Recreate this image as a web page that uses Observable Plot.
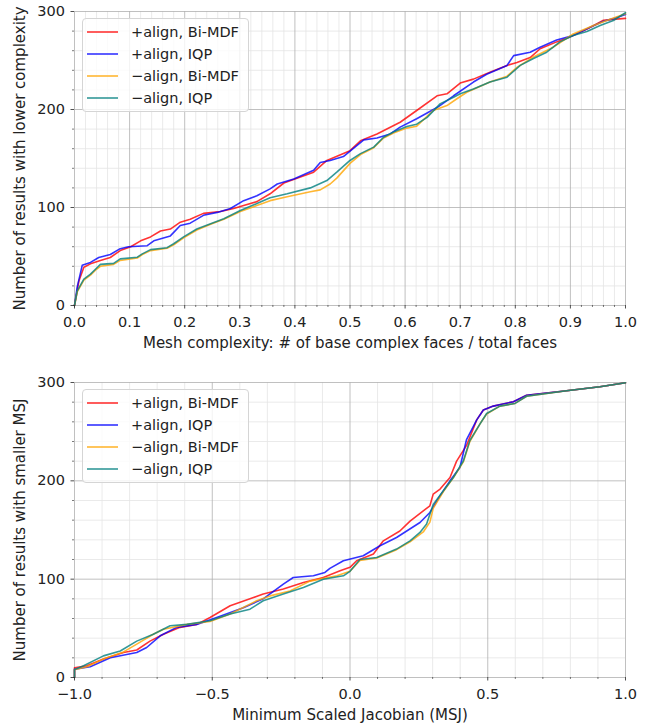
<!DOCTYPE html>
<html><head><meta charset="utf-8">
<script src="https://cdn.jsdelivr.net/npm/d3@7"></script>
<script src="https://cdn.jsdelivr.net/npm/@observablehq/plot@0.6"></script>
<style>
body{margin:0;background:#fff;font-family:"DejaVu Sans",sans-serif;}
#fig{position:relative;width:652px;height:727px;overflow:hidden;}
.panel{position:absolute;left:0;}
.legend{position:absolute;left:82px;width:167px;height:94px;border:1px solid #d5d5d5;border-radius:4px;background:rgba(255,255,255,0.8);box-sizing:border-box;font-size:14.5px;color:#222;}
.row{position:absolute;left:4px;height:22px;display:flex;align-items:center;white-space:nowrap;}
.sw{width:31px;height:6px;margin-right:13px;display:block;}
</style>
</head><body>
<div id="fig"></div>
<script>
// ---- series names & colours ----
const seriesNames = ["+align, Bi-MDF", "+align, IQP", "\u2212align, Bi-MDF", "\u2212align, IQP"];
const seriesColors = ["#ff0000", "#0000ff", "#ffa500", "#008080"];

// ---- top panel: mesh complexity (x) vs cumulative count (y) ----
const topRed = [[0,0],[0.008,25],[0.017,39],[0.029,42.5],[0.047,46],[0.065,49],[0.083,56],[0.102,60],[0.12,66],[0.138,70],[0.156,76],[0.174,78],[0.192,85],[0.21,88],[0.234,94],[0.265,96],[0.289,99],[0.307,102],[0.331,106],[0.355,114],[0.38,125],[0.40,129],[0.434,136],[0.458,148],[0.5,158],[0.519,168],[0.549,175],[0.591,187],[0.621,199],[0.658,214],[0.676,216],[0.70,227],[0.724,231],[0.754,238],[0.785,245],[0.803,248],[0.827,253],[0.845,262],[0.875,269],[0.899,274],[0.93,282],[0.96,291],[0.977,292],[1.0,293]];
const topBlue = [[0,0],[0.005,19],[0.014,41],[0.029,44],[0.044,49],[0.065,52],[0.083,58],[0.098,60],[0.132,61],[0.144,66],[0.174,71],[0.192,81.6],[0.21,84],[0.234,92],[0.259,95],[0.283,99],[0.307,107],[0.331,112],[0.355,119],[0.368,124],[0.398,129],[0.434,138],[0.446,146],[0.464,148],[0.488,152],[0.525,169],[0.549,171],[0.573,175],[0.591,182],[0.621,190.5],[0.658,202],[0.676,209],[0.688,214],[0.724,228],[0.748,236],[0.785,245],[0.797,255],[0.827,258.5],[0.845,263.6],[0.875,271],[0.905,275.5],[0.936,284],[0.96,290],[0.98,293],[1.0,297]];
const topOrange = [[0,0],[0.005,14],[0.017,26],[0.029,31],[0.038,36],[0.047,40],[0.071,42],[0.083,46],[0.114,48.5],[0.123,52],[0.138,56],[0.168,58.5],[0.18,62],[0.198,69],[0.222,77],[0.247,83],[0.271,88],[0.301,96],[0.331,102],[0.355,107],[0.386,111],[0.428,116],[0.446,118],[0.464,124],[0.476,130],[0.5,145],[0.519,154],[0.543,161],[0.561,171],[0.579,176],[0.603,181],[0.621,183],[0.651,199],[0.676,204],[0.694,211],[0.712,217.6],[0.754,228],[0.785,234],[0.803,243],[0.833,253.6],[0.869,263.6],[0.905,277],[0.942,285.7],[0.977,293],[1.0,297.6]];
const topTeal = [[0,0],[0.005,15],[0.017,27],[0.029,32],[0.038,37],[0.047,42],[0.071,43],[0.083,47.6],[0.114,49.3],[0.123,52.7],[0.138,57],[0.168,59],[0.18,63],[0.198,70],[0.222,78],[0.247,83.4],[0.271,88.5],[0.301,97],[0.331,104],[0.355,110],[0.386,114],[0.428,120],[0.458,127.5],[0.476,136],[0.5,148],[0.519,155],[0.543,161.6],[0.561,171.7],[0.579,177],[0.603,182.6],[0.621,185],[0.64,192],[0.664,206],[0.688,212.5],[0.70,216],[0.724,221],[0.754,228],[0.785,233],[0.809,245],[0.833,252],[0.857,258.5],[0.881,269],[0.905,275.5],[0.93,279.6],[0.954,285.7],[0.978,290.8],[1.0,298.7]];

// ---- bottom panel: MSJ (x) vs cumulative count (y) ----
const botRed = [[-1,0],[-1,10],[-0.955,12],[-0.895,18.7],[-0.822,25.4],[-0.774,28],[-0.726,37],[-0.677,44],[-0.617,51],[-0.556,54],[-0.508,61],[-0.435,73],[-0.363,80],[-0.315,85],[-0.242,90],[-0.169,96.6],[-0.097,101.7],[-0.036,108.5],[0,112],[0.024,118.7],[0.085,125.5],[0.121,139],[0.181,149],[0.218,159],[0.266,169.5],[0.29,174.6],[0.302,186.5],[0.327,191.6],[0.363,203.4],[0.387,220],[0.423,236],[0.46,262],[0.484,272],[0.52,276],[0.593,280.4],[0.641,287],[0.786,291.6],[0.907,295.6],[1.0,299.7]];
const botBlue = [[-1,0],[-1,8.5],[-0.943,11],[-0.87,20],[-0.774,25.4],[-0.738,30.5],[-0.689,42.4],[-0.629,51],[-0.556,54],[-0.484,61],[-0.387,71],[-0.315,80],[-0.242,95],[-0.206,101.7],[-0.133,103.4],[-0.091,106.8],[-0.073,111],[-0.024,118.7],[0.048,123.8],[0.109,134],[0.169,142.4],[0.254,157.6],[0.29,167.8],[0.327,184.8],[0.363,200],[0.399,213.6],[0.423,242],[0.46,262],[0.484,272],[0.52,276],[0.593,280.4],[0.641,287],[0.786,291.6],[0.907,295.6],[1.0,299.7]];
const botOrange = [[-1,0],[-1,8],[-0.955,11],[-0.895,18.7],[-0.822,26],[-0.774,34],[-0.714,44],[-0.677,49],[-0.592,54],[-0.508,57],[-0.435,64.5],[-0.339,78],[-0.29,83],[-0.218,88],[-0.145,98],[-0.048,103.4],[0,108],[0.036,119],[0.097,121.5],[0.169,130],[0.218,138],[0.266,148],[0.29,158],[0.302,172],[0.339,189],[0.375,203],[0.411,219],[0.435,240],[0.472,258],[0.496,268],[0.544,276],[0.599,278.7],[0.641,286],[0.786,291.6],[0.907,295.6],[1.0,299.7]];
const botTeal = [[-1,0],[-1,8],[-0.967,12],[-0.895,22],[-0.834,27],[-0.774,37],[-0.714,44],[-0.653,52.6],[-0.592,54],[-0.508,57.7],[-0.435,64.5],[-0.363,69.5],[-0.315,78],[-0.242,84.8],[-0.169,91.5],[-0.097,100],[-0.024,103.4],[0,108],[0.036,120],[0.097,122],[0.169,130.6],[0.218,139],[0.254,147.5],[0.278,156],[0.302,176],[0.339,190],[0.375,203.4],[0.411,220],[0.435,241],[0.472,258],[0.496,268.5],[0.544,276],[0.599,278.7],[0.641,286],[0.786,291.6],[0.907,295.6],[1.0,299.7]];

// ---- tick values & labels ----
const topXMajor = [0,0.1,0.2,0.3,0.4,0.5,0.6,0.7,0.8,0.9,1.0];
const topXMinor = d3.range(0, 51).map(i => +(i*0.02).toFixed(2)).filter(v => Math.round(v*100) % 10 !== 0);
const botXMajor = [-1,-0.5,0,0.5,1];
const botXMinor = d3.range(-10, 11).map(i => +(i*0.1).toFixed(1)).filter(v => Math.round(v*10) % 5 !== 0);
const yMajor = [0,100,200,300];
const yMinor = [20,40,60,80,120,140,160,180,220,240,260,280];
const topXLabel = "Mesh complexity: # of base complex faces / total faces";
const topYLabel = "Number of results with lower complexity";
const botXLabel = "Minimum Scaled Jacobian (MSJ)";
const botYLabel = "Number of results with smaller MSJ";

function table(arrs) {
  const rows = [];
  arrs.forEach((a, k) => a.forEach(([x, y]) => rows.push({s: seriesNames[k], x, y})));
  return rows;
}
const fmt = d => d.toFixed(1).replace("-", "\u2212");

function panel({rows, xDomain, xMajor, xMinor, xLabel, yLabel, height, mt, mb, labelDy}) {
  return Plot.plot({
    width: 652, height, marginTop: mt, marginBottom: mb, marginLeft: 74, marginRight: 27,
    x: {domain: xDomain},
    y: {domain: [0, 300]},
    color: {domain: seriesNames, range: seriesColors},
    style: {fontFamily: "DejaVu Sans", fontSize: "14.5px", color: "#222", background: "transparent", overflow: "visible"},
    marks: [
      Plot.gridX(xMinor, {stroke: "#e4e4e4", strokeOpacity: 1, strokeWidth: 0.8}),
      Plot.gridY(yMinor, {stroke: "#e4e4e4", strokeOpacity: 1, strokeWidth: 0.8}),
      Plot.gridX(xMajor, {stroke: "#b0b0b0", strokeOpacity: 1, strokeWidth: 0.8}),
      Plot.gridY(yMajor, {stroke: "#b0b0b0", strokeOpacity: 1, strokeWidth: 0.8}),
      Plot.line(rows, {x: "x", y: "y", z: "s", stroke: "s", strokeWidth: 1.6, strokeOpacity: 0.8}),
      Plot.axisX(xMinor, {tickSize: 2, tickFormat: () => "", label: null, strokeWidth: 0.6}),
      Plot.axisY(yMinor, {tickSize: 2, tickFormat: () => "", label: null, strokeWidth: 0.6}),
      Plot.axisX(xMajor, {tickSize: 3.5, tickPadding: 8, tickFormat: fmt, label: null, strokeWidth: 0.8}),
      Plot.axisY(yMajor, {tickSize: 3.5, tickPadding: 6, tickFormat: d => String(d), label: null, strokeWidth: 0.8}),
      Plot.text([xLabel], {frameAnchor: "bottom", dy: labelDy, fontSize: 15, fill: "#222", textAnchor: "middle"}),
      Plot.text([yLabel], {frameAnchor: "left", dx: -54, rotate: -90, fontSize: 15, fill: "#222", textAnchor: "middle"})
    ]
  });
}

function legend(top) {
  const NS = "http://www.w3.org/2000/svg";
  const div = document.createElement("div");
  div.className = "legend";
  div.style.top = top + "px";
  seriesNames.forEach((n, i) => {
    const r = document.createElement("div");
    r.className = "row";
    r.style.top = (1.5 + i * 22.3) + "px";
    const sw = document.createElementNS(NS, "svg");
    sw.setAttribute("class", "sw");
    sw.setAttribute("width", 31); sw.setAttribute("height", 6);
    const ln = document.createElementNS(NS, "line");
    ln.setAttribute("x1", 0); ln.setAttribute("x2", 31);
    ln.setAttribute("y1", 3); ln.setAttribute("y2", 3);
    ln.setAttribute("stroke", seriesColors[i]);
    ln.setAttribute("stroke-width", 1.6);
    ln.setAttribute("stroke-opacity", 0.8);
    sw.appendChild(ln);
    const t = document.createElement("span");
    t.textContent = n;
    r.appendChild(sw); r.appendChild(t);
    div.appendChild(r);
  });
  return div;
}

const fig = document.getElementById("fig");
const p1 = panel({rows: table([topRed, topBlue, topOrange, topTeal]), xDomain: [0, 1], xMajor: topXMajor, xMinor: topXMinor,
  xLabel: topXLabel, yLabel: topYLabel, height: 355, mt: 11, mb: 50, labelDy: 42});
p1.classList.add("panel"); p1.style.top = "0px";
fig.appendChild(p1);
fig.appendChild(legend(18));

const p2 = panel({rows: table([botRed, botBlue, botOrange, botTeal]), xDomain: [-1, 1], xMajor: botXMajor, xMinor: botXMinor,
  xLabel: botXLabel, yLabel: botYLabel, height: 372, mt: 27, mb: 50, labelDy: 42});
p2.classList.add("panel"); p2.style.top = "355px";
fig.appendChild(p2);
fig.appendChild(legend(389));
</script>
</body></html>
